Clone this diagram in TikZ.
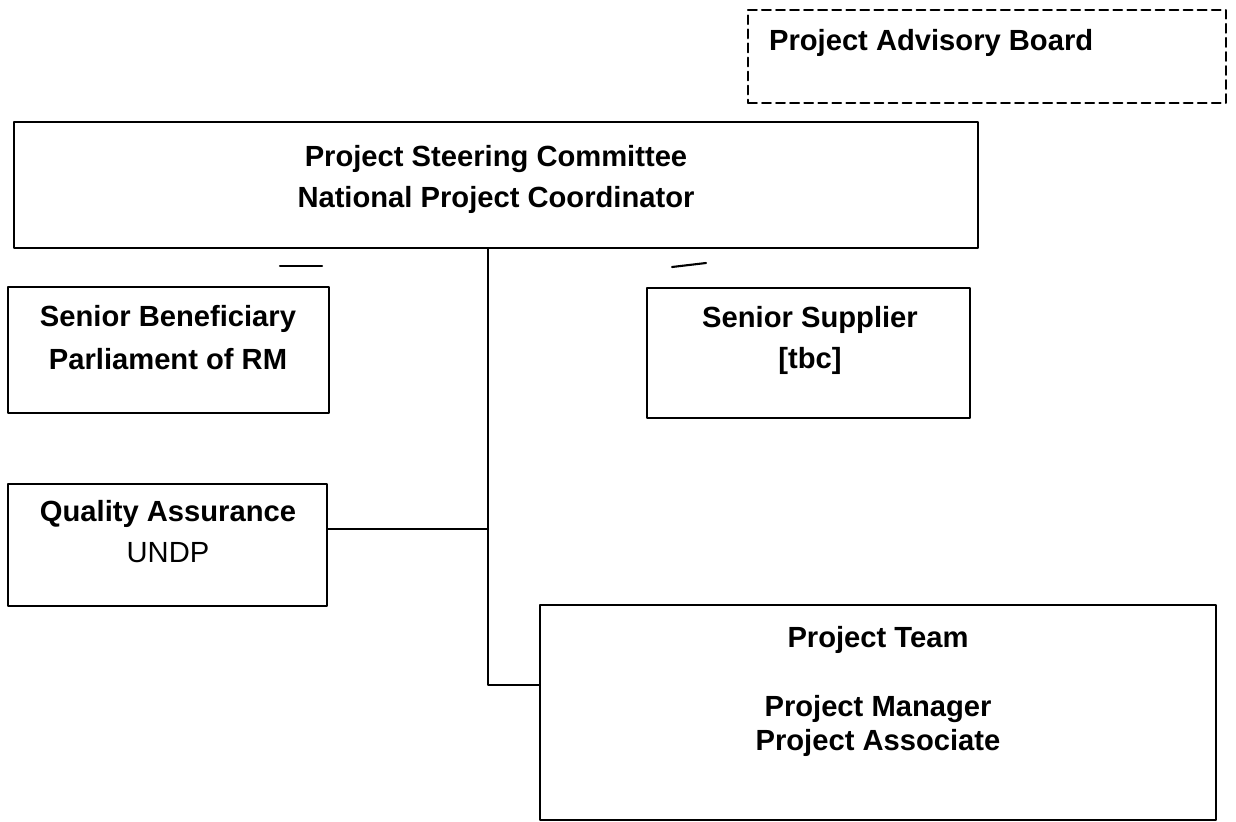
\documentclass[tikz,border=0pt]{standalone}
\usepackage{fontspec}
\setmainfont{Liberation Sans}
\begin{document}
\begin{tikzpicture}[x=0.02cm,y=-0.02cm,line join=round,line cap=round,line width=1.2pt,
	box/.style={draw,rectangle,inner sep=0pt},
	lbl/.style={anchor=base,inner sep=0pt,font=\fontsize{16.6}{20}\selectfont\bfseries},
	plain/.style={lbl,font=\fontsize{16.6}{20}\selectfont}]
	\useasboundingbox (0,0) rectangle (1236,821);
	%Project Advisory Board
	\node[box,dash pattern=on 5pt off 3pt,minimum width=9.56cm,minimum height=1.86cm] (pab) at (987,56.5) {};
	\node[lbl,anchor=base west] (pabt) at (768,51) {Project Advisory Board};
	%Project Steering Committee
	\node[box,minimum width=19.28cm,minimum height=2.52cm] (psc) at (496,185) {};
	\node[lbl] (psc1) at (496,166) {Project Steering Committee};
	\node[lbl] (psc2) at (496,207) {National Project Coordinator};
	\draw (280,266) -- (322,266);
	\draw (672,267) -- (706,263);
	%Senior Beneficiary
	\node[box,minimum width=6.42cm,minimum height=2.52cm] (ben) at (168.5,350) {};
	\node[lbl] (ben1) at (168,326) {Senior Beneficiary};
	\node[lbl] (ben2) at (168,369) {Parliament of RM};
	%Senior Supplier
	\node[box,minimum width=6.46cm,minimum height=2.6cm] (sup) at (808.5,353) {};
	\node[lbl] (sup1) at (810,327) {Senior Supplier};
	\node[lbl] (sup2) at (810,368) {[tbc]};
	%Quality Assurance
	\node[box,minimum width=6.38cm,minimum height=2.44cm] (qa) at (167.5,545) {};
	\node[lbl] (qa1) at (168,521) {Quality Assurance};
	\node[plain] (qa2) at (168,562) {UNDP};
	%Project Team
	\node[box,minimum width=13.52cm,minimum height=4.3cm] (team) at (878,712.5) {};
	\node[lbl] (team1) at (878,647) {Project Team};
	\node[lbl] (team2) at (878,716) {Project Manager};
	\node[lbl] (team3) at (878,750) {Project Associate};
	%lines
	\coordinate (jq) at (488,529);
	\coordinate (jt) at (488,685);
	\draw (jt |- psc.south) -- (jt) -- (jt -| team.west);
	\draw (qa.east |- jq) -- (jq);
\end{tikzpicture}
\end{document}
